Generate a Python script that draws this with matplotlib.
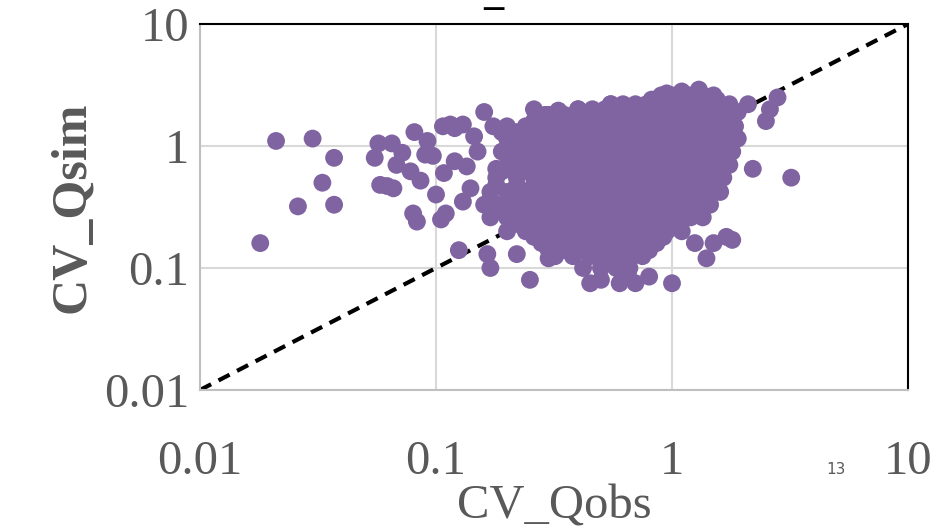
import matplotlib
matplotlib.use("Agg")
import matplotlib.pyplot as plt

# scattered points outside the dense core (CV_Qobs, CV_Qsim)
OUT_X = [0.018, 0.021, 0.026, 0.030, 0.033, 0.037, 0.037, 0.055, 0.057, 0.058, 0.062, 0.066, 0.065,
         0.068, 0.072, 0.078, 0.080, 0.081, 0.083, 0.086, 0.090, 0.092, 0.097, 0.10, 0.105, 0.107,
         0.108, 0.11, 0.115, 0.12, 0.12, 0.125, 0.13, 0.13, 0.135, 0.14, 0.145, 0.15, 0.16, 0.165,
         0.17, 0.175, 0.18, 0.19, 0.2, 0.22, 0.25, 0.26, 0.29, 0.3, 0.33, 0.4, 0.45, 0.5, 0.55,
         0.6, 0.7, 0.65, 1.0, 0.8, 1.25, 1.4, 1.5, 1.8, 1.7, 2.2, 2.5, 2.6, 2.8, 3.2, 2.1, 1.9,
         1.3, 1.1, 0.95]
OUT_Y = [0.16, 1.1, 0.32, 1.15, 0.5, 0.33, 0.8, 0.8, 1.05, 0.48, 0.47, 0.45, 1.05,
         0.7, 0.88, 0.62, 0.28, 1.3, 0.24, 0.52, 0.85, 1.1, 0.83, 0.4, 0.25, 1.45,
         0.6, 0.28, 1.5, 0.75, 1.4, 0.14, 1.5, 0.35, 0.68, 0.45, 1.2, 0.9, 1.9, 0.13,
         0.1, 1.45, 0.65, 1.3, 0.3, 0.13, 0.08, 2.0, 1.8, 0.12, 1.95, 2.0, 0.075, 0.08, 2.2,
         0.075, 0.075, 0.09, 0.075, 0.085, 0.16, 0.12, 0.16, 0.17, 0.18, 0.65, 1.6, 2.0, 2.5, 0.55, 2.2, 1.9,
         2.9, 2.8, 2.7]

# dense core, read row by row: CV_Qsim level -> CV_Qobs values
ROW_Y = [2.6, 2.2, 1.8, 1.45, 1.15, 0.9, 0.7, 0.55, 0.42, 0.33, 0.26, 0.2, 0.16, 0.125, 0.1,
         2.4, 2.0, 1.6, 1.3, 1.02, 0.8, 0.62, 0.48, 0.37, 0.29, 0.23, 0.18, 0.14]
ROW_X = [
    [0.9, 1.0, 1.1, 1.2, 1.35, 1.5],
    [0.55, 0.62, 0.7, 0.78, 0.86, 0.95, 1.05, 1.15, 1.28, 1.42, 1.6, 1.75],
    [0.3, 0.35, 0.42, 0.48, 0.55, 0.62, 0.7, 0.78, 0.86, 0.95, 1.05, 1.15, 1.28, 1.42, 1.6, 1.8],
    [0.2, 0.24, 0.28, 0.33, 0.38, 0.44, 0.5, 0.56, 0.63, 0.7, 0.78, 0.86, 0.95, 1.05, 1.15, 1.28, 1.42, 1.6, 1.85],
    [0.2, 0.24, 0.28, 0.33, 0.38, 0.44, 0.5, 0.56, 0.63, 0.7, 0.78, 0.86, 0.95, 1.05, 1.15, 1.28, 1.42, 1.6, 1.9],
    [0.19, 0.23, 0.27, 0.31, 0.36, 0.42, 0.48, 0.55, 0.62, 0.7, 0.78, 0.86, 0.95, 1.05, 1.15, 1.28, 1.42, 1.6, 1.8],
    [0.2, 0.24, 0.28, 0.33, 0.38, 0.44, 0.5, 0.56, 0.63, 0.7, 0.78, 0.86, 0.95, 1.05, 1.15, 1.28, 1.42, 1.6, 1.75],
    [0.18, 0.22, 0.26, 0.3, 0.35, 0.4, 0.46, 0.52, 0.58, 0.65, 0.72, 0.8, 0.88, 0.97, 1.07, 1.18, 1.3, 1.45, 1.65],
    [0.17, 0.2, 0.24, 0.28, 0.33, 0.38, 0.44, 0.5, 0.56, 0.63, 0.7, 0.78, 0.86, 0.95, 1.05, 1.15, 1.28, 1.42, 1.6],
    [0.16, 0.19, 0.23, 0.27, 0.31, 0.36, 0.42, 0.48, 0.55, 0.62, 0.7, 0.78, 0.86, 0.95, 1.05, 1.15, 1.28, 1.45],
    [0.17, 0.2, 0.24, 0.28, 0.33, 0.38, 0.44, 0.5, 0.56, 0.63, 0.7, 0.78, 0.86, 0.95, 1.05, 1.2, 1.35],
    [0.2, 0.24, 0.28, 0.33, 0.38, 0.44, 0.5, 0.56, 0.63, 0.7, 0.78, 0.86, 0.95, 1.1],
    [0.28, 0.33, 0.38, 0.44, 0.5, 0.56, 0.63, 0.7, 0.78, 0.86],
    [0.32, 0.38, 0.45, 0.52, 0.6, 0.68, 0.75],
    [0.42, 0.5, 0.58, 0.66],
    [0.82, 0.92, 1.02, 1.12, 1.25, 1.4, 1.55],
    [0.4, 0.46, 0.52, 0.58, 0.66, 0.74, 0.82, 0.9, 1.0, 1.1, 1.22, 1.35, 1.5, 1.68],
    [0.26, 0.32, 0.38, 0.45, 0.52, 0.58, 0.66, 0.74, 0.82, 0.9, 1.0, 1.1, 1.22, 1.35, 1.5, 1.7],
    [0.22, 0.26, 0.3, 0.36, 0.41, 0.47, 0.53, 0.6, 0.66, 0.74, 0.82, 0.9, 1.0, 1.1, 1.22, 1.35, 1.5, 1.72],
    [0.21, 0.26, 0.3, 0.35, 0.41, 0.47, 0.53, 0.6, 0.66, 0.74, 0.82, 0.9, 1.0, 1.1, 1.22, 1.35, 1.5, 1.75],
    [0.21, 0.25, 0.29, 0.34, 0.39, 0.45, 0.52, 0.58, 0.66, 0.74, 0.82, 0.9, 1.0, 1.1, 1.22, 1.35, 1.5, 1.7],
    [0.19, 0.23, 0.27, 0.31, 0.36, 0.41, 0.47, 0.53, 0.6, 0.66, 0.74, 0.82, 0.9, 1.0, 1.1, 1.22, 1.35, 1.55],
    [0.18, 0.22, 0.26, 0.3, 0.35, 0.41, 0.47, 0.53, 0.6, 0.66, 0.74, 0.82, 0.9, 1.0, 1.1, 1.22, 1.35, 1.5],
    [0.17, 0.21, 0.25, 0.29, 0.34, 0.39, 0.45, 0.52, 0.58, 0.66, 0.74, 0.82, 0.9, 1.0, 1.1, 1.22, 1.38],
    [0.18, 0.22, 0.26, 0.3, 0.35, 0.41, 0.47, 0.53, 0.6, 0.66, 0.74, 0.82, 0.9, 1.0, 1.12, 1.28],
    [0.22, 0.26, 0.3, 0.35, 0.41, 0.47, 0.53, 0.6, 0.66, 0.74, 0.82, 0.9, 1.02],
    [0.26, 0.3, 0.35, 0.41, 0.47, 0.53, 0.6, 0.66, 0.74, 0.82, 0.92],
    [0.3, 0.35, 0.41, 0.48, 0.56, 0.64, 0.72, 0.8],
]
TICKS = [0.01, 0.1, 1, 10]
TICK_LABELS = ["0.01", "0.1", "1", "10"]

xs = list(OUT_X)
ys = list(OUT_Y)
for yv, row in zip(ROW_Y, ROW_X):
    xs += row
    ys += [yv] * len(row)

GREY = "#595959"
PURPLE = "#8064a2"
plt.rcParams["font.family"] = ["Liberation Serif", "DejaVu Serif"]

fig = plt.figure(figsize=(9.37, 5.32), dpi=100)
ax = fig.add_axes([200 / 937, 1 - 390 / 532, 708 / 937, 366 / 532])
ax.set_xscale("log")
ax.set_yscale("log")
ax.set_xlim(0.01, 10)
ax.set_ylim(0.01, 10)
ax.grid(True, color="#d9d9d9", linewidth=1.5)
ax.set_axisbelow(True)
ax.plot([0.01, 10], [0.01, 10], "--", color="black", linewidth=3, dashes=(3, 2), zorder=1)
ax.scatter(xs, ys, s=165, color=PURPLE, edgecolors="none", zorder=2)

ax.set_xticks(TICKS)
ax.set_xticklabels(TICK_LABELS)
ax.set_yticks(TICKS)
ax.set_yticklabels(TICK_LABELS)
ax.minorticks_off()
ax.tick_params(length=0, labelsize=35, labelcolor=GREY)
ax.tick_params(axis="x", pad=36)
ax.tick_params(axis="y", pad=8)
for s in ["top", "right"]:
    ax.spines[s].set_color("black")
    ax.spines[s].set_linewidth(1.5)
for s in ["left", "bottom"]:
    ax.spines[s].set_color("#bfbfbf")
    ax.spines[s].set_linewidth(1.5)

ax.set_xlabel("CV_Qobs", fontsize=35, color=GREY, labelpad=0)
ax.set_ylabel("CV_Qsim", fontsize=36, color=GREY, fontweight="bold", labelpad=6)
fig.text(493 / 937, 1 - 4 / 532, "_", fontsize=29, fontweight="bold", color="black", ha="center", va="baseline")
fig.text(836 / 937, 1 - 470 / 532, "13", fontsize=11, color=GREY, ha="center", va="center",
         family=["DejaVu Sans"])

fig.savefig("out.png", dpi=100)
